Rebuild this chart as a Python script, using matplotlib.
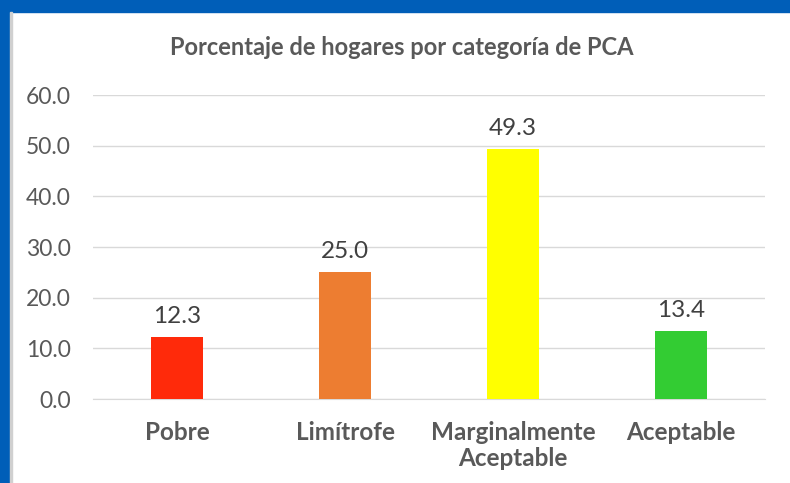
import matplotlib.pyplot as plt
from matplotlib.patches import Rectangle

categories = ["Pobre", "Limítrofe", "Marginalmente\nAceptable", "Aceptable"]
values = [12.3, 25.0, 49.3, 13.4]
colors = ["#FF2A0A", "#ED7D31", "#FFFF00", "#33CC33"]
yticks = [0, 10, 20, 30, 40, 50, 60]

plt.rcParams["font.family"] = ["Lato", "DejaVu Sans"]
grey = "#595959"

fig = plt.figure(figsize=(7.9, 4.83), dpi=100)
ax = fig.add_axes([93 / 790, 84 / 483, 672 / 790, 304 / 483])

x = range(len(categories))
bars = ax.bar(x, values, width=0.31, color=colors, zorder=3)
for b, v in zip(bars, values):
    ax.text(b.get_x() + b.get_width() / 2, v + 2.0, f"{v:.1f}",
            ha="center", va="bottom", fontsize=17.5, color="#404040")

ax.set_xlim(-0.5, 3.5)
ax.set_ylim(0, 60)
ax.set_yticks(yticks)
ax.set_yticklabels([f"{t:.1f}" for t in yticks], fontsize=16.5, color=grey)
ax.set_xticks(list(x))
ax.set_xticklabels(categories, fontsize=17.5, fontweight="bold", color=grey, linespacing=1.2)
ax.tick_params(length=0, axis="y", pad=16)
ax.tick_params(length=0, axis="x", pad=15.5)
ax.grid(axis="y", color="#D9D9D9", linewidth=1, zorder=0)
for s in ["top", "right", "left"]:
    ax.spines[s].set_visible(False)
ax.spines["bottom"].set_color("#D9D9D9")

ax.set_title("Porcentaje de hogares por categoría de PCA", fontsize=17,
             fontweight="bold", color=grey, pad=29, x=(402 - 93) / 672)

# blue frame on left and top
fig.patches.append(Rectangle((0, 0), 10 / 790, 1, transform=fig.transFigure,
                             color="#005EB8", zorder=10))
fig.patches.append(Rectangle((0, 1 - 12 / 483), 1, 12 / 483, transform=fig.transFigure,
                             color="#005EB8", zorder=10))
fig.patches.append(Rectangle((10 / 790, 0), 1.5 / 790, 1 - 12 / 483, transform=fig.transFigure,
                             color="#D0D0D0", zorder=10))

fig.savefig("out.png", dpi=100)
